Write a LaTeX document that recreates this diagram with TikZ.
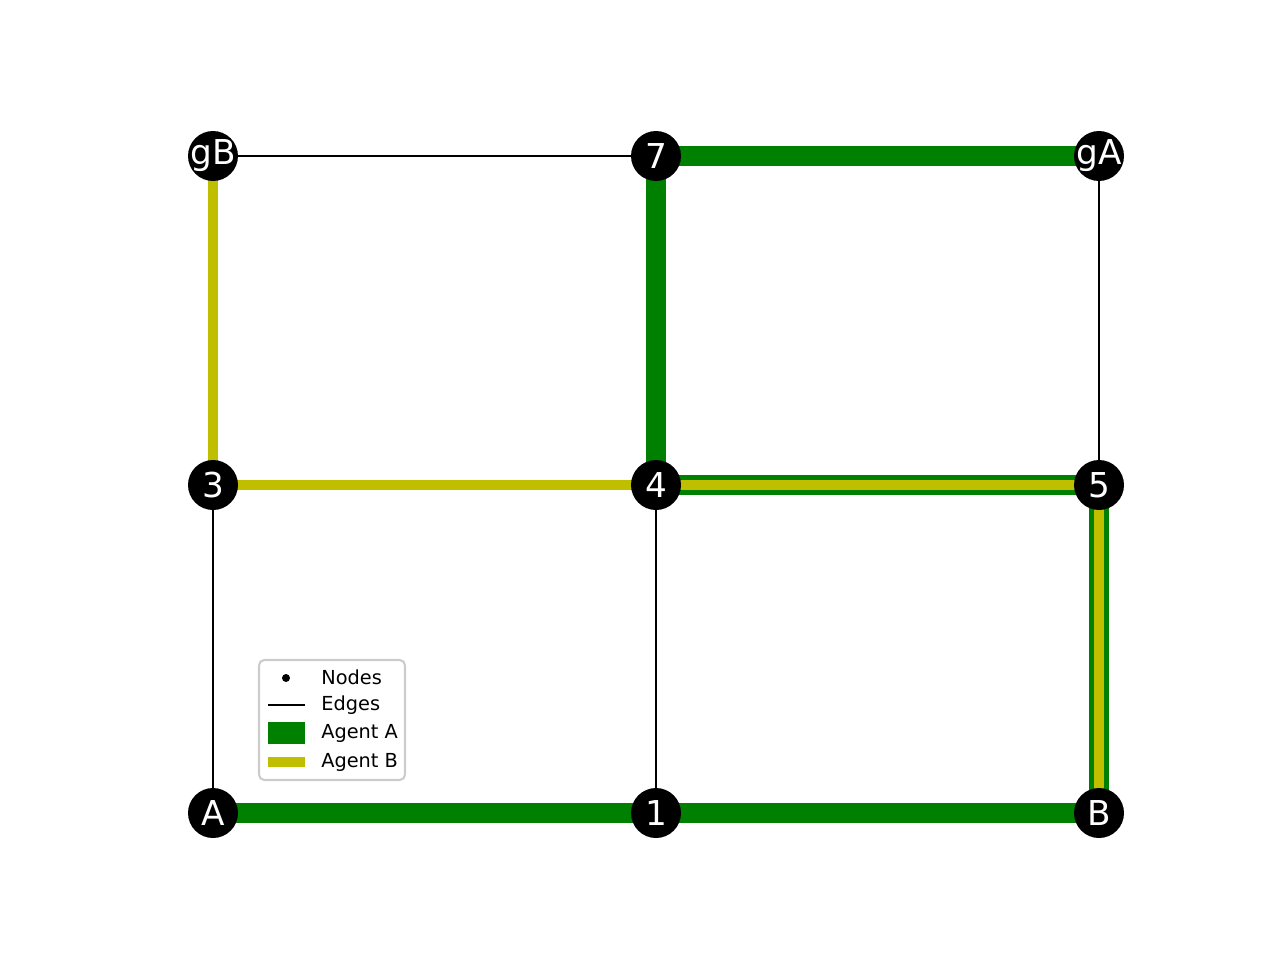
\documentclass[tikz,border=0pt]{standalone}
\usepackage{fontspec}
\setmainfont{DejaVu Sans}
\usetikzlibrary{positioning}
\definecolor{agentA}{rgb}{0,0.5,0}
\definecolor{agentB}{rgb}{0.75,0.75,0}
\definecolor{legframe}{gray}{0.8}
\pgfdeclarelayer{background}
\pgfsetlayers{background,main}
\newcommand{\vlab}[1]{\makebox[0pt]{#1}}
\begin{document}
\begin{tikzpicture}[x=0.02cm,y=-0.02cm,
  vert/.style={circle,fill=black,text=white,minimum size=1cm,inner sep=0pt,font=\fontsize{19.5}{22}\selectfont},
  edge/.style={line width=1.5pt,black},
  pathA/.style={line width=0.4cm,agentA},
  pathB/.style={line width=0.2cm,agentB},
  legtext/.style={anchor=west,inner sep=0pt,font=\fontsize{11}{13}\selectfont}]
\useasboundingbox (0,0) rectangle (1280,960);

\node[vert] (gB) at (213,156) {\vlab{gB}};
\node[vert] (n7) at (656,156) {7};
\node[vert] (gA) at (1099,156) {\vlab{gA}};
\node[vert] (n3) at (213,485) {3};
\node[vert] (n4) at (656,485) {4};
\node[vert] (n5) at (1099,485) {5};
\node[vert] (A) at (213,813) {A};
\node[vert] (n1) at (656,813) {1};
\node[vert] (B) at (1099,813) {B};

\begin{pgfonlayer}{background}
\draw[edge] (gB)--(n7) (gA)--(n5) (n3)--(A) (n4)--(n1);
\draw[pathA] (gA.center)--(n7.center)--(n4.center)--(n5.center)--(B.center)--(n1.center)--(A.center);
\draw[pathB] (gB.center)--(n3.center)--(n4.center)--(n5.center)--(B.center);
\end{pgfonlayer}

% legend
\draw[legframe,line width=1.2pt,fill=white,rounded corners=3pt] (259,660) rectangle (405,780);
\fill[black] (286,678) circle (0.08cm);
\node[legtext] (lnodes) at (321,677) {Nodes};
\coordinate (le1) at (268,705);
\coordinate (le2) at (305,705);
\draw[edge] (le1)--(le2);
\node[legtext] (ledges) at (321,705) {Edges};
\fill[agentA] (268,722) rectangle (305,744);
\node[legtext] (lagentA) at (321,733) {Agent A};
\fill[agentB] (268,757) rectangle (305,767);
\node[legtext] (lagentB) at (321,762) {Agent B};
\end{tikzpicture}
\end{document}
